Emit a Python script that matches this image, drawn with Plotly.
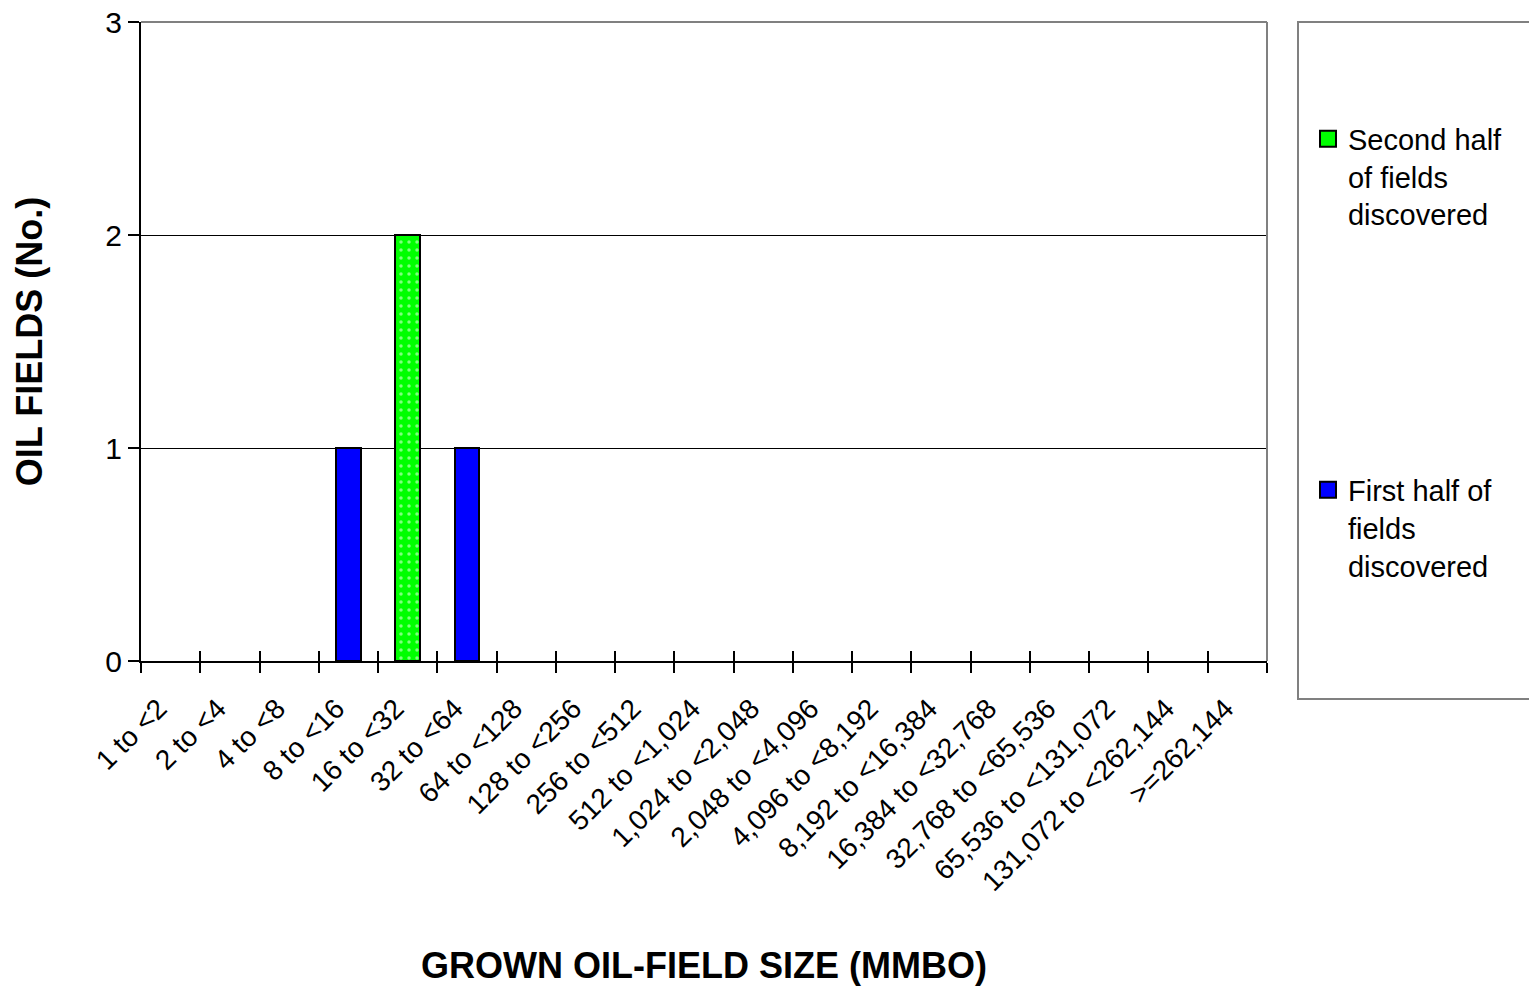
import plotly.graph_objects as go

categories = ["1 to <2", "2 to <4", "4 to <8", "8 to <16", "16 to <32", "32 to <64",
              "64 to <128", "128 to <256", "256 to <512", "512 to <1,024",
              "1,024 to <2,048", "2,048 to <4,096", "4,096 to <8,192",
              "8,192 to <16,384", "16,384 to <32,768", "32,768 to <65,536",
              "65,536 to <131,072", "131,072 to <262,144", ">=262,144"]
first_half = [0, 0, 0, 1, 0, 1, 0, 0, 0, 0, 0, 0, 0, 0, 0, 0, 0, 0, 0]
second_half = [0, 0, 0, 0, 2, 0, 0, 0, 0, 0, 0, 0, 0, 0, 0, 0, 0, 0, 0]
y_ticks = [0, 1, 2, 3]

FONT = "Liberation Sans, Arial, sans-serif"
BLUE = "#0000FF"
GREEN = "#00FF00"


def nz(vals):
    return [v if v else None for v in vals]


fig = go.Figure()
fig.add_trace(go.Bar(
    x=categories, y=nz(first_half), name="First half of fields discovered",
    marker=dict(color=BLUE, line=dict(color="black", width=2)),
    width=0.42, showlegend=False))
fig.add_trace(go.Bar(
    x=categories, y=nz(second_half), name="Second half of fields discovered",
    marker=dict(color=GREEN, line=dict(color="black", width=2),
                pattern=dict(shape=".", fgcolor="white", bgcolor=GREEN,
                             size=8, solidity=0.15, fillmode="overlay")),
    width=0.42, showlegend=False))
# legend entries (large square swatches like the original legend)
fig.add_trace(go.Scatter(
    x=[None], y=[None], mode="markers", name="Second half<br>of fields<br>discovered",
    marker=dict(symbol="square", size=16, color=GREEN, line=dict(color="black", width=2)),
    legendgroup="b"))
fig.add_trace(go.Scatter(
    x=[None], y=[None], mode="markers", name="First half of<br>fields<br>discovered",
    marker=dict(symbol="square", size=16, color=BLUE, line=dict(color="black", width=2)),
    legendgroup="a"))
# invisible trace on overlay axis for inner tick marks
fig.add_trace(go.Bar(x=categories, y=[None] * len(categories), xaxis="x2", yaxis="y",
                     showlegend=False, marker=dict(color="rgba(0,0,0,0)"), hoverinfo="skip"))

fig.update_layout(
    width=1529, height=986,
    margin=dict(l=141, r=262, t=22, b=325, autoexpand=False),
    paper_bgcolor="white", plot_bgcolor="white",
    barmode="stack", bargap=0.58,
    font=dict(family=FONT, size=27, color="black"),
    showlegend=True,
    legend=dict(x=1.0364, y=0.857, xanchor="left", yanchor="top",
                traceorder="grouped", tracegroupgap=235, valign="top",
                font=dict(family=FONT, size=29, color="black"),
                bgcolor="rgba(0,0,0,0)", itemsizing="trace"),
    xaxis=dict(
        type="category", categoryorder="array", categoryarray=categories,
        range=[-0.5, len(categories) - 0.5], automargin=False,
        tickangle=-45, tickson="boundaries", ticks="outside", ticklen=10,
        tickwidth=1.5, tickcolor="black",
        ticklabelshift=-12, ticklabelstandoff=18,
        showline=True, linecolor="black", linewidth=2,
        showgrid=False, tickfont=dict(size=28),
        title=dict(text="<b>GROWN OIL-FIELD SIZE (MMBO)</b>",
                   font=dict(size=36), standoff=86),
    ),
    xaxis2=dict(
        type="category", categoryorder="array", categoryarray=categories,
        overlaying="x", side="bottom", range=[-0.5, len(categories) - 0.5],
        tickson="boundaries", ticks="inside", ticklen=10, tickwidth=1.5,
        tickcolor="black", showticklabels=False, showgrid=False, showline=False,
        automargin=False,
    ),
    yaxis=dict(
        range=[0, 3], tickvals=y_ticks, ticks="outside", ticklen=11,
        tickwidth=1.5, tickcolor="black", automargin=False,
        showline=True, linecolor="black", linewidth=2,
        showgrid=True, gridcolor="black", gridwidth=1,
        zeroline=False, tickfont=dict(size=30),
        title=dict(text="<b>OIL FIELDS (No.)</b>", font=dict(size=36), standoff=52),
    ),
    shapes=[
        dict(type="line", xref="paper", yref="paper", x0=0, x1=1, y0=1, y1=1,
             line=dict(color="#808080", width=2), layer="above"),
        dict(type="line", xref="paper", yref="paper", x0=1, x1=1, y0=0, y1=1,
             line=dict(color="#808080", width=2), layer="above"),
        dict(type="rect", xref="paper", yref="paper",
             x0=(1298 - 141) / 1126, x1=(1545 - 141) / 1126,
             y0=(661 - 699) / 639, y1=1.0,
             line=dict(color="#808080", width=2), fillcolor="rgba(0,0,0,0)"),
    ],
)

fig.write_html("out.html", config={"displayModeBar": False},
               post_script="document.body.style.margin='0';document.body.style.overflow='hidden';")
